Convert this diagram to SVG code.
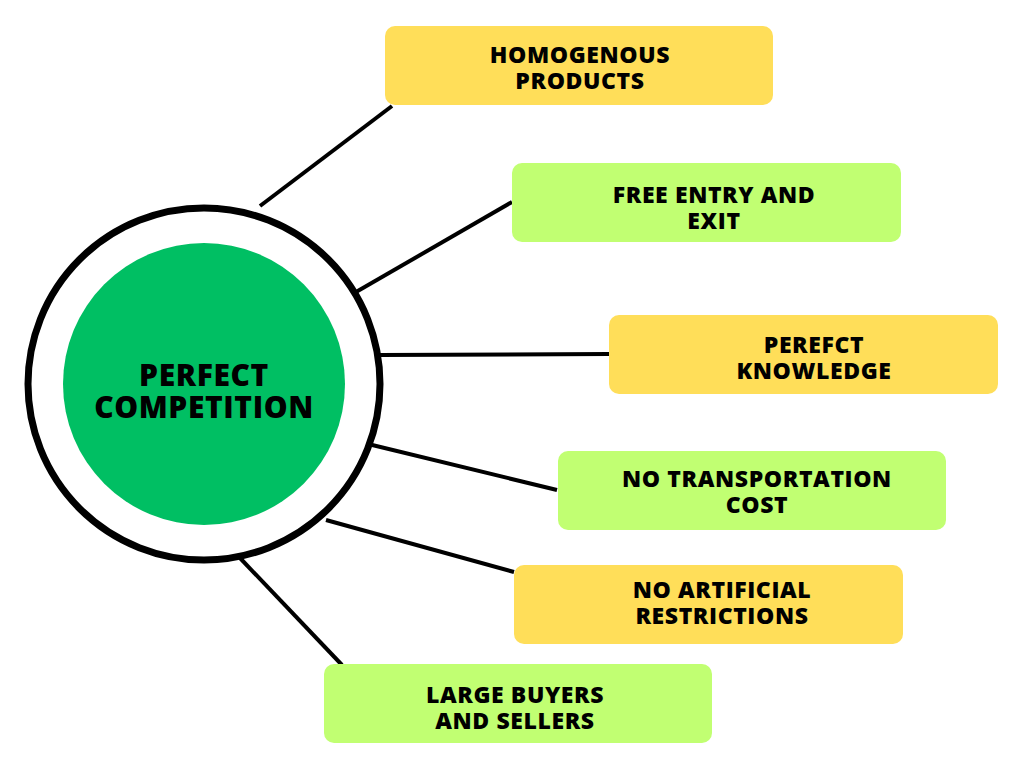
<svg xmlns="http://www.w3.org/2000/svg" width="1024" height="768" viewBox="0 0 1024 768">
<style>
.y{fill:#FFDE59}.g{fill:#C1FF72}
text{font-family:"Open Sans","Liberation Sans",sans-serif;font-weight:800;fill:#000;text-anchor:middle;letter-spacing:0.6px}
.t{font-size:23px}.c{font-size:30px}
#connectors line{stroke:#000;stroke-width:4}
</style>
<rect width="1024" height="768" fill="#fff"/>
<g id="connectors">
<line x1="260" y1="206" x2="392" y2="106"/>
<line x1="356" y1="292" x2="512" y2="202"/>
<line x1="380" y1="355" x2="609" y2="354"/>
<line x1="364" y1="443" x2="557" y2="490"/>
<line x1="326" y1="520" x2="514" y2="572"/>
<line x1="240" y1="558" x2="342" y2="665"/>
</g>
<g id="center">
<circle cx="204" cy="384" r="176" fill="#fff" stroke="#000" stroke-width="7"/>
<circle cx="204" cy="384" r="141" fill="#00BF63"/>
<text class="c" x="204" y="386">PERFECT</text>
<text class="c" x="204" y="418">COMPETITION</text>
</g>
<g id="n1"><rect class="y" x="385" y="26" width="388" height="79" rx="10"/><text class="t" x="580" y="63">HOMOGENOUS</text><text class="t" x="580" y="89">PRODUCTS</text></g>
<g id="n2"><rect class="g" x="512" y="163" width="389" height="79" rx="10"/><text class="t" x="714" y="203">FREE ENTRY AND</text><text class="t" x="714" y="229">EXIT</text></g>
<g id="n3"><rect class="y" x="609" y="315" width="389" height="79" rx="10"/><text class="t" x="814" y="353">PEREFCT</text><text class="t" x="814" y="379">KNOWLEDGE</text></g>
<g id="n4"><rect class="g" x="558" y="451" width="388" height="79" rx="10"/><text class="t" x="757" y="487">NO TRANSPORTATION</text><text class="t" x="757" y="513">COST</text></g>
<g id="n5"><rect class="y" x="514" y="565" width="389" height="79" rx="10"/><text class="t" x="722" y="598">NO ARTIFICIAL</text><text class="t" x="722" y="624">RESTRICTIONS</text></g>
<g id="n6"><rect class="g" x="324" y="664" width="388" height="79" rx="10"/><text class="t" x="515" y="703">LARGE BUYERS</text><text class="t" x="515" y="729">AND SELLERS</text></g>
</svg>
